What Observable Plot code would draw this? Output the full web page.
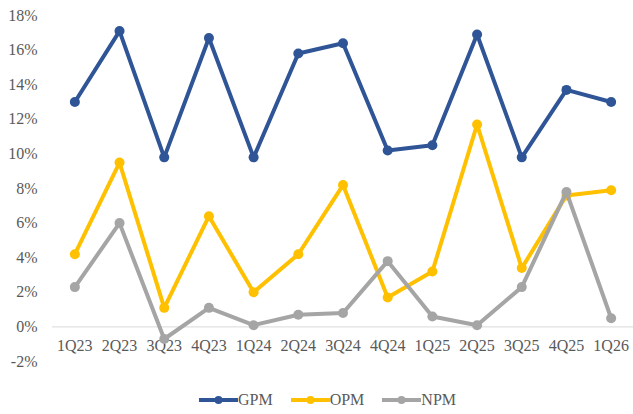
<!DOCTYPE html>
<html>
<head>
<meta charset="utf-8">
<script src="https://cdn.jsdelivr.net/npm/d3@7"></script>
<script src="https://cdn.jsdelivr.net/npm/@observablehq/plot@0.6"></script>
<style>
  body { margin: 0; background: #fff; font-family: "Liberation Serif", "Times New Roman", serif; }
  #chart { width: 633px; }
  .legend { display: flex; justify-content: center; align-items: center; height: 29px; color: #595959; font-size: 16px; padding-left: 22px; }
  .item { display: flex; align-items: center; margin: 0 9px; }
</style>
</head>
<body>
<div id="chart"></div>
<script>
const quarters = ["1Q23","2Q23","3Q23","4Q23","1Q24","2Q24","3Q24","4Q24","1Q25","2Q25","3Q25","4Q25","1Q26"];
const gpm = [13.0, 17.1, 9.8, 16.7, 9.8, 15.8, 16.4, 10.2, 10.5, 16.9, 9.8, 13.7, 13.0];
const opm = [4.2, 9.5, 1.1, 6.4, 2.0, 4.2, 8.2, 1.7, 3.2, 11.7, 3.4, 7.6, 7.9];
const npm = [2.3, 6.0, -0.7, 1.1, 0.1, 0.7, 0.8, 3.8, 0.6, 0.1, 2.3, 7.8, 0.5];
const seriesNames = ["GPM", "OPM", "NPM"];
const seriesColors = ["#2F5597", "#FFC000", "#A5A5A5"];
const yTicks = [-2, 0, 2, 4, 6, 8, 10, 12, 14, 16, 18];

const seriesValues = [gpm, opm, npm];
const rows = [];
seriesNames.forEach((name, i) => {
  quarters.forEach((q, j) => rows.push({series: name, quarter: q, value: seriesValues[i][j]}));
});

const marks = [
  Plot.ruleY([0], {stroke: "#D9D9D9", strokeWidth: 1}),
  Plot.axisY({ticks: yTicks, tickSize: 0, tickPadding: 15, tickFormat: d => d + "%", fontSize: 16, fill: "#595959", label: null}),
  Plot.text(quarters, {x: d => d, y: () => 0, dy: 19, fontSize: 16, fill: "#595959"})
];
seriesNames.forEach((name, i) => {
  const data = rows.filter(r => r.series === name);
  marks.push(Plot.line(data, {x: "quarter", y: "value", stroke: seriesColors[i], strokeWidth: 4}));
  marks.push(Plot.dot(data, {x: "quarter", y: "value", fill: seriesColors[i], r: 5}));
});

const chart = Plot.plot({
  width: 633,
  height: 385,
  marginLeft: 52,
  marginRight: 0,
  marginTop: 15,
  marginBottom: 24,
  style: {fontFamily: "'Liberation Serif', 'Times New Roman', serif", background: "#fff"},
  x: {type: "point", domain: quarters, padding: 0.5, round: false, axis: null},
  y: {domain: [-2, 18], axis: null},
  marks
});
document.getElementById("chart").appendChild(chart);

const legend = document.createElement("div");
legend.className = "legend";
seriesNames.forEach((name, i) => {
  const item = document.createElement("div");
  item.className = "item";
  item.innerHTML = `<svg width="39" height="12"><line x1="0" y1="6" x2="39" y2="6" stroke="${seriesColors[i]}" stroke-width="4"/><circle cx="19.5" cy="6" r="4" fill="${seriesColors[i]}"/></svg><span>${name}</span>`;
  legend.appendChild(item);
});
document.getElementById("chart").appendChild(legend);
</script>
</body>
</html>
